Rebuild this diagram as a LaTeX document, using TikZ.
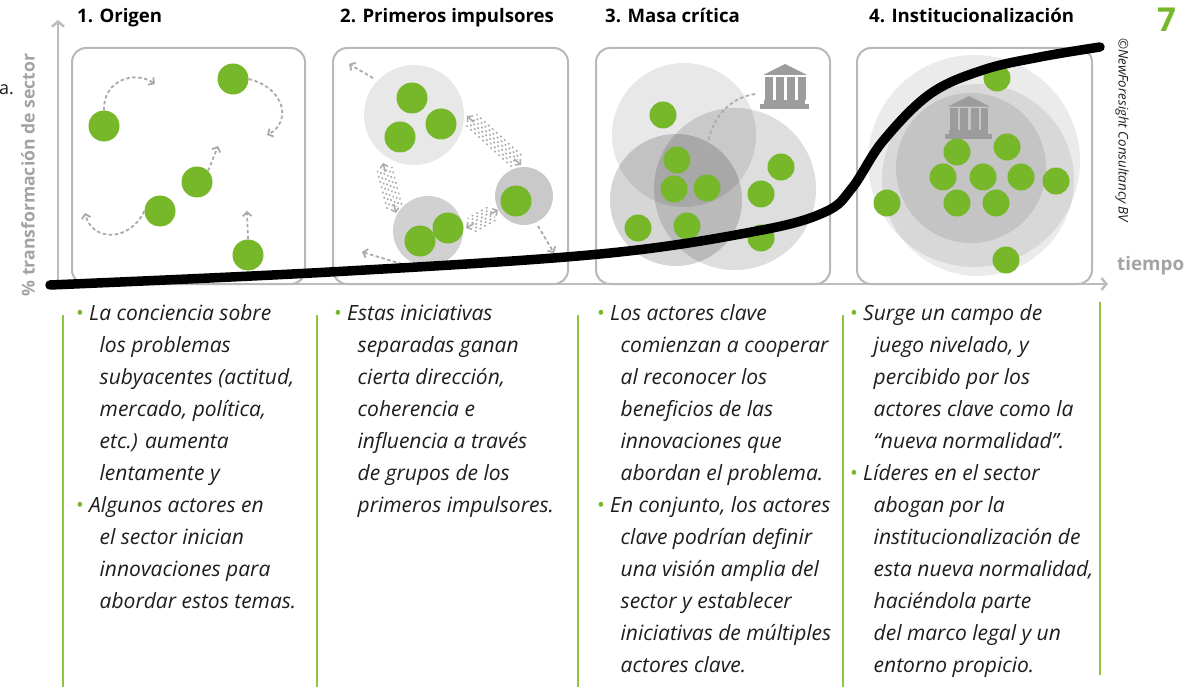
\documentclass[tikz,border=0pt]{standalone}
\usepackage{fontspec}
\setmainfont{Open Sans}
\usetikzlibrary{arrows.meta,calc}
\definecolor{bgreen}{HTML}{76B82A}
\definecolor{lgreen}{HTML}{8CC63F}
\definecolor{axisg}{HTML}{BDBDBD}
\definecolor{panelg}{HTML}{B8B8B8}
\definecolor{labelg}{HTML}{A3A3A3}
\definecolor{icong}{HTML}{9C9C9C}
\definecolor{dashg}{HTML}{ABABAB}
\definecolor{txt}{HTML}{1E1E1E}
\newcommand\bitem{\par\hangindent=24pt\hangafter=1\noindent\makebox[13.5pt][l]{\textcolor{bgreen}{\textbullet}}}
\newcommand\fuzzyband[2]{%
  \coordinate (fa) at ($(#1)!6pt!(#2)$);
  \coordinate (fb) at ($(#2)!6pt!(#1)$);
  \foreach \oo/\pp in {-7.5/0,-4.5/3.1,-1.5/1.4,1.5/4.2,4.5/2.2,7.5/0.6}{
    \draw[fz, dash phase=\pp pt] ($(fa)!\oo pt!90:(fb)$) -- ($(fb)!\oo pt!-90:(fa)$);
  }
  \draw[fzt] ($(#1)!9pt!(#2)$) -- (#1);
  \draw[fzt] ($(#2)!9pt!(#1)$) -- (#2);
}
\tikzset{
  dot/.style={circle, fill=bgreen, inner sep=0pt, minimum size=31pt},
  sdot/.style={circle, fill=bgreen, inner sep=0pt, minimum size=27pt},
  panel/.style={draw=panelg, line width=2pt, rounded corners=14pt},
  axisl/.style={axisg, line width=2.5pt, -{Straight Barb[length=5pt,width=12pt]}},
  fz/.style={dashg, line width=1.5pt, dash pattern=on 1.8pt off 3.6pt},
  fzt/.style={dashg, line width=1.5pt, -{Straight Barb[length=3.5pt,width=8pt]}},
  darr/.style={dashg, line width=1.8pt, dash pattern=on 3.5pt off 2.5pt, -{Straight Barb[length=4pt,width=9pt]}},
  curve/.style={black, line width=9.5pt, line cap=round},
  head/.style={anchor=base west, inner sep=0pt, font=\fontsize{18.6}{20}\selectfont\bfseries},
  sepl/.style={lgreen, line width=1.5pt},
  col/.style={anchor=base west, inner sep=0pt, text=txt},
  inst/.pic={
    \fill[icong] (-22,-11) -- (0,-22) -- (22,-11) -- cycle;
    \foreach \cx in {-16,-5.5,6,16.5} \fill[icong] (\cx-4,-9) rectangle (\cx+4,14);
    \fill[icong] (-21,14) rectangle (20,18);
    \fill[icong] (-25,18) rectangle (24,23);
  }
}
\newcommand\colfont{\fontsize{21}{32}\selectfont\itshape\parskip=0pt\parindent=0pt}
\begin{document}
\begin{tikzpicture}[x=1pt,y=-1pt]
\fill[white] (0,0) rectangle (1199,687);
\useasboundingbox (0,0) rectangle (1199,687);

% axes
\coordinate (o) at (58,284);
\coordinate (ytop) at (58,20);
\coordinate (xend) at (1108,284);
\draw[axisl] (o) -- (ytop);
\draw[axisl] (o) -- (xend);

% panels background
\foreach \l/\r in {72/305,333/568,596/830,857/1092}
  \fill[white, rounded corners=14pt] (\l,48) rectangle (\r,284);

% ---------- panel 1 ----------
\node[dot] (a1) at (104,126) {};
\node[dot] (a2) at (233,79) {};
\node[dot] (a3) at (197,182) {};
\node[dot] (a4) at (160,211) {};
\node[dot] (a5) at (248,255) {};
\coordinate (a1e) at (155,84);
\coordinate (a2e) at (267,135);
\coordinate (a3e) at (218,146);
\coordinate (a4e) at (85,213);
\coordinate (a5e) at (247,211);
\draw[darr] (a1.north) .. controls (103,80) and (135,70) .. (a1e);
\draw[darr] (a2.east) .. controls (285,88) and (292,122) .. (a2e);
\draw[darr] (a3.north east) -- (a3e);
\draw[darr] (a4.west) .. controls (130,242) and (92,242) .. (a4e);
\draw[darr] (a5.north) -- (a5e);

% ---------- panel 2 ----------
\fill[black!9] (414,115) circle (50);
\fill[black!21] (524,196) circle (29);
\fill[black!18] (428,231) circle (35);
\node[dot] (b1) at (412,98) {};
\node[dot] (b2) at (441,124) {};
\node[dot] (b3) at (400,137) {};
\node[dot] (b4) at (516,201) {};
\node[dot] (b5) at (448,228) {};
\node[dot] (b6) at (420,241) {};
\coordinate (f1a) at (467,116);
\coordinate (f1b) at (521,165);
\coordinate (f2a) at (383,163);
\coordinate (f2b) at (396,213);
\coordinate (f3a) at (466,228);
\coordinate (f3b) at (498,210);
\fuzzyband{f1a}{f1b}
\fuzzyband{f2a}{f2b}
\fuzzyband{f3a}{f3b}
\coordinate (g1s) at (373,78);
\coordinate (g1e) at (349,64);
\coordinate (g2s) at (538,226);
\coordinate (g2e) at (554,253);
\coordinate (g3s) at (402,264);
\coordinate (g3e) at (362,252);
\draw[darr] (g1s) -- (g1e);
\draw[darr] (g2s) -- (g2e);
\draw[darr] (g3s) -- (g3e);

% ---------- panel 3 ----------
\fill[black, opacity=0.09] (684,135) circle (72);
\fill[black, opacity=0.13] (735,189) circle (81);
\fill[black, opacity=0.16] (676,200) circle (66);
\pic at (785,86) {inst};
\coordinate (h0) at (755,94);
\coordinate (h1e) at (707,151);
\draw[darr] (h0) .. controls (728,98) and (710,120) .. (h1e);
\node[sdot] (c1) at (663,115) {};
\node[sdot] (c2) at (677,160) {};
\node[sdot] (c3) at (674,189) {};
\node[sdot] (c4) at (707,188) {};
\node[sdot] (c5) at (781,167) {};
\node[sdot] (c6) at (761,194) {};
\node[sdot] (c7) at (638,228) {};
\node[sdot] (c8) at (687,226) {};
\node[sdot] (c9) at (761,238) {};

% ---------- panel 4 ----------
\fill[black, opacity=0.08] (974,161) circle (106);
\fill[black, opacity=0.08] (978,180) circle (96);
\fill[black, opacity=0.09] (971,168) circle (75);
\pic[scale=0.95] at (969,117) {inst};
\node[sdot] (d1) at (997,78) {};
\node[sdot] (d2) at (957,152) {};
\node[sdot] (d3) at (1007,147) {};
\node[sdot] (d4) at (943,177) {};
\node[sdot] (d5) at (983,177) {};
\node[sdot] (d6) at (1021,177) {};
\node[sdot] (d7) at (1056,181) {};
\node[sdot] (d8) at (957,203) {};
\node[sdot] (d9) at (996,203) {};
\node[sdot] (d10) at (887,203) {};
\node[sdot] (d11) at (1006,260) {};

% panel borders
\foreach \l/\r in {72/305,333/568,596/830,857/1092}
  \draw[panel] (\l,48) rectangle (\r,284);

% S-curve
\draw[curve] plot[smooth, tension=0.6] coordinates {(50,285) (330,272) (600,254) (757,231) (825,212) (852,188) (883,141) (930,94) (983,70) (1040,57) (1100,47)};

% headings
\node[head] (t1) at (77,23) {1. Origen};
\node[head] (t2) at (340,23) {2. Primeros impulsores};
\node[head] (t3) at (605,23) {3. Masa crítica};
\node[head] (t4) at (869,23) {4. Institucionalización};
\node[anchor=base west, inner sep=0pt, text=bgreen, font=\fontsize{33}{36}\selectfont\bfseries] (seven) at (1157,32) {7};

% axis labels
\node[rotate=90, inner sep=0pt, text=labelg, font=\fontsize{17.6}{20}\selectfont\bfseries] (ylab) at (28,175) {\% transformación de sector};
\node[anchor=base west, inner sep=0pt, text=labelg, font=\fontsize{18.8}{20}\selectfont\bfseries] (tiempo) at (1117,270) {tiempo};
\node[rotate=-90, inner sep=0pt, text=txt, font=\fontsize{13.3}{15}\selectfont\itshape] (copy) at (1122,130) {©NewForesight Consultancy BV};
\node[anchor=base west, inner sep=0pt, text=txt, font=\fontsize{18}{20}\selectfont] (frag) at (-1,95) {a.};

% separators
\draw[sepl] (63,315) -- (63,687);
\draw[sepl] (317,315) -- (317,687);
\draw[sepl] (578,315) -- (578,687);
\draw[sepl] (843,315) -- (843,687);
\draw[sepl] (1100,302) -- (1100,675);

% text columns
\node[col] (k1) at (75.5,320) {\parbox[t]{300pt}{\colfont
\bitem La conciencia sobre\\los problemas\\subyacentes (actitud,\\mercado, política,\\etc.) aumenta\\lentamente y
\bitem Algunos actores en\\el sector inician\\innovaciones para\\abordar estos temas.}};
\node[col] (k2) at (333.5,320) {\parbox[t]{300pt}{\colfont
\bitem Estas iniciativas\\separadas ganan\\cierta dirección,\\coherencia e\\influencia a través\\de grupos de los\\primeros impulsores.}};
\node[col] (k3) at (596.5,320) {\parbox[t]{300pt}{\colfont
\bitem Los actores clave\\comienzan a cooperar\\al reconocer los\\beneficios de las\\innovaciones que\\abordan el problema.
\bitem En conjunto, los actores\\clave podrían definir\\una visión amplia del\\sector y establecer\\iniciativas de múltiples\\actores clave.}};
\node[col] (k4) at (849.5,320) {\parbox[t]{300pt}{\colfont
\bitem Surge un campo de\\juego nivelado, y\\percibido por los\\actores clave como la\\“nueva normalidad”.
\bitem Líderes en el sector\\abogan por la\\institucionalización de\\esta nueva normalidad,\\haciéndola parte\\del marco legal y un\\entorno propicio.}};
\end{tikzpicture}
\end{document}
